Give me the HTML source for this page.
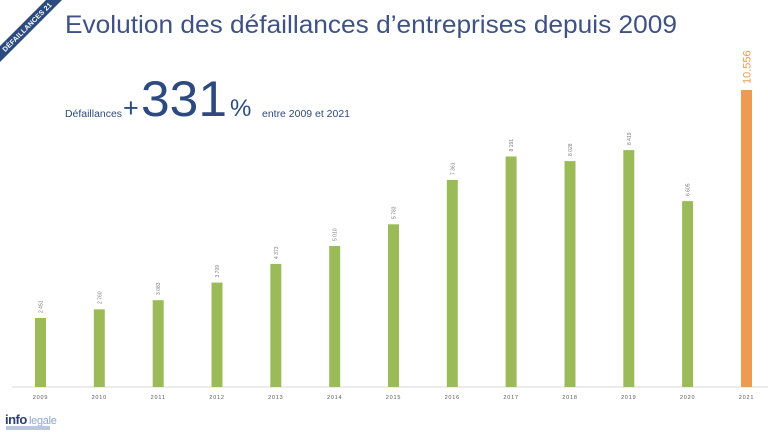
<!DOCTYPE html>
<html>
<head>
<meta charset="utf-8">
<style>
html,body{margin:0;padding:0;background:#fff;}
svg{display:block;}
text{font-family:"Liberation Sans",sans-serif;}
</style>
</head>
<body>
<svg width="768" height="432" viewBox="0 0 768 432" xmlns="http://www.w3.org/2000/svg">
<rect width="768" height="432" fill="#ffffff"/>

<!-- corner ribbon -->
<polygon points="0,46 46,0 62,0 0,62" fill="#2b4b7e"/>
<text x="0" y="0" transform="translate(27,27) rotate(-45)" font-size="7" font-weight="bold" fill="#ffffff" text-anchor="middle" dy="2.5" letter-spacing="0.2">DÉFAILLANCES 21</text>

<!-- title -->
<text x="65" y="33" font-size="25" fill="#3f5283" textLength="612" lengthAdjust="spacingAndGlyphs">Evolution des défaillances d’entreprises depuis 2009</text>

<!-- headline -->
<text x="65" y="117" font-size="10" fill="#2e4a7a" textLength="57" lengthAdjust="spacingAndGlyphs">Défaillances</text>
<text x="123" y="117" font-size="27" fill="#2b4a80">+</text>
<text x="141" y="116" font-size="50" fill="#2b4a80" textLength="86" lengthAdjust="spacingAndGlyphs">331</text>
<text x="230" y="116" font-size="24" fill="#2b4a80">%</text>
<text x="262" y="117" font-size="10" fill="#2e4a7a" textLength="88" lengthAdjust="spacingAndGlyphs">entre 2009 et 2021</text>

<!-- axis -->
<line x1="12" y1="387" x2="768" y2="387" stroke="#d9d9d9" stroke-width="1"/>

<!-- bars -->
<g fill="#9bbb59">
<rect x="35.0" y="318.0" width="11" height="69"/>
<rect x="93.8" y="309.3" width="11" height="77.7"/>
<rect x="152.7" y="300.2" width="11" height="86.8"/>
<rect x="211.5" y="282.6" width="11" height="104.4"/>
<rect x="270.3" y="263.9" width="11" height="123.1"/>
<rect x="329.2" y="246.0" width="11" height="141.0"/>
<rect x="388.0" y="224.3" width="11" height="162.7"/>
<rect x="446.8" y="179.9" width="11" height="207.1"/>
<rect x="505.6" y="156.5" width="11" height="230.5"/>
<rect x="564.5" y="161.1" width="11" height="225.9"/>
<rect x="623.3" y="150.1" width="11" height="236.9"/>
<rect x="682.1" y="201.1" width="11" height="185.9"/>
</g>
<rect x="741.0" y="90" width="11" height="297" fill="#ec9b50"/>

<!-- value labels -->
<g font-size="5" fill="#7a7a7a">
<text transform="translate(42.5,313) rotate(-90)">2 451</text>
<text transform="translate(101.3,304) rotate(-90)">2 760</text>
<text transform="translate(160.2,295) rotate(-90)">3 083</text>
<text transform="translate(219.0,277.5) rotate(-90)">3 709</text>
<text transform="translate(277.8,259) rotate(-90)">4 373</text>
<text transform="translate(336.7,241) rotate(-90)">5 010</text>
<text transform="translate(395.5,219) rotate(-90)">5 783</text>
<text transform="translate(454.3,175) rotate(-90)">7 361</text>
<text transform="translate(513.1,151.5) rotate(-90)">8 191</text>
<text transform="translate(572.0,156) rotate(-90)">8 028</text>
<text transform="translate(630.8,145) rotate(-90)">8 419</text>
<text transform="translate(689.6,196) rotate(-90)">6 605</text>
</g>
<text transform="translate(750.5,84) rotate(-90)" font-size="11" fill="#ec9b50">10.556</text>

<!-- year labels -->
<g font-size="5.5" fill="#595959" text-anchor="middle" letter-spacing="0.8">
<text x="40.5" y="399">2009</text>
<text x="99.3" y="399">2010</text>
<text x="158.2" y="399">2011</text>
<text x="217.0" y="399">2012</text>
<text x="275.8" y="399">2013</text>
<text x="334.7" y="399">2014</text>
<text x="393.5" y="399">2015</text>
<text x="452.3" y="399">2016</text>
<text x="511.1" y="399">2017</text>
<text x="570.0" y="399">2018</text>
<text x="628.8" y="399">2019</text>
<text x="687.6" y="399">2020</text>
<text x="746.5" y="399">2021</text>
</g>

<!-- logo -->
<text x="5" y="424" font-size="13" font-weight="bold" fill="#2b3f73" letter-spacing="-0.5">info</text>
<text x="29" y="424" font-size="11" fill="#8fa6cc" letter-spacing="-0.3">legale</text>
<rect x="6" y="426" width="44" height="4" fill="#b9c6de"/>
</svg>
</body>
</html>
